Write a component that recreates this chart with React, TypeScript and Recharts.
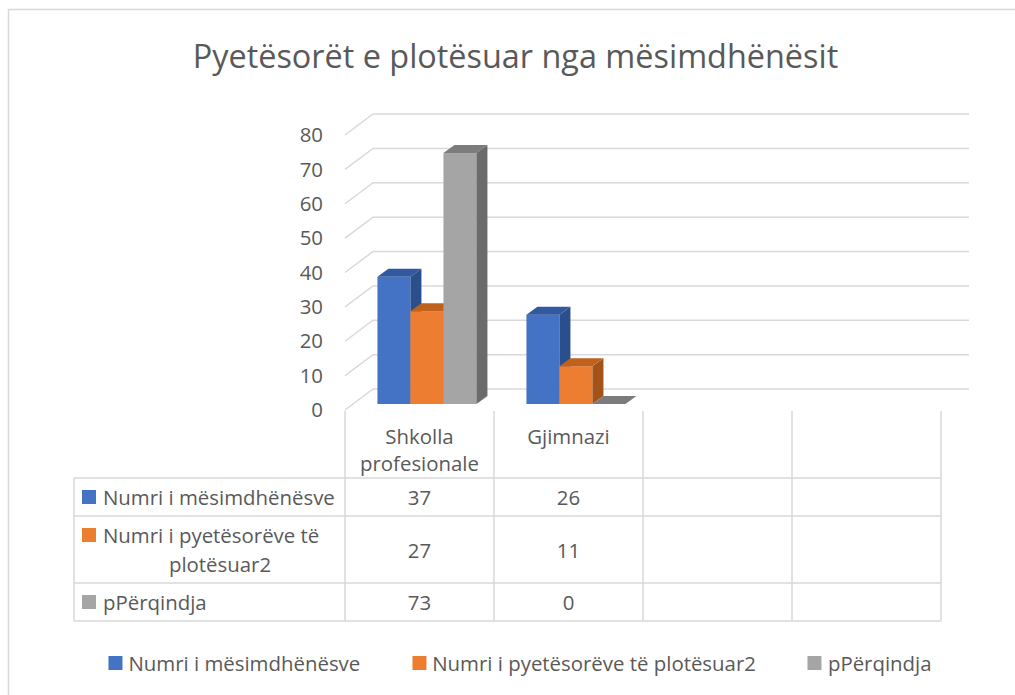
import React from "react";
import { BarChart, Bar, XAxis, YAxis, CartesianGrid } from "recharts";

// ---- data ----
const title = "Pyetësorët e plotësuar nga mësimdhënësit";
const categories = ["Shkolla profesionale", "Gjimnazi", "", ""];
const seriesNames = [
  "Numri i mësimdhënësve",
  "Numri i pyetësorëve të plotësuar2",
  "pPërqindja",
];
const numriMesimdhenesve: (number | null)[] = [37, 26, null, null];
const numriPyetesoreve: (number | null)[] = [27, 11, null, null];
const perqindja: (number | null)[] = [73, 0, null, null];
const yTicks = [0, 10, 20, 30, 40, 50, 60, 70, 80];

const seriesValues = [numriMesimdhenesve, numriPyetesoreve, perqindja];
const seriesKeys = ["s0", "s1", "s2"];
const seriesColors = [
  { front: "#4472C4", top: "#30599F", side: "#2B4E8C" },
  { front: "#ED7D31", top: "#C0621E", side: "#A3531A" },
  { front: "#A5A5A5", top: "#7C7C7C", side: "#6B6B6B" },
];

const data = categories.map((name, i) => {
  const row: Record<string, any> = { name };
  seriesKeys.forEach((k, s) => (row[k] = seriesValues[s][i]));
  return row;
});

// ---- layout ----
const W = 1015;
const H = 695;
const PL = 345;
const PR = 941;
const PT = 135;
const PB = 410;
const WALL_DX = 28;
const WALL_DY = -21;
const BAR_OX = 8;
const BAR_OY = -6;
const BAR_DX = 11;
const BAR_DY = -8;
const FONT = "'Open Sans', sans-serif";
const TXT = "#595959";
const LINE = "#d9d9d9";
const FS = 20.4;

const make3D = (key: string, c: { front: string; top: string; side: string }) =>
  (props: any) => {
    const { x, y, width, height, payload } = props;
    if (!payload || payload[key] == null) return <g />;
    const fx = x + BAR_OX;
    const fy = y + BAR_OY;
    const w = width;
    const h = Math.max(0, height);
    return (
      <g>
        <rect x={fx} y={fy} width={w} height={h} fill={c.front} />
        <polygon
          points={`${fx + w},${fy} ${fx + w + BAR_DX},${fy + BAR_DY} ${fx + w + BAR_DX},${fy + h + BAR_DY} ${fx + w},${fy + h}`}
          fill={c.side}
        />
        <polygon
          points={`${fx},${fy} ${fx + BAR_DX},${fy + BAR_DY} ${fx + w + BAR_DX},${fy + BAR_DY} ${fx + w},${fy}`}
          fill={c.top}
        />
      </g>
    );
  };

const gridLine = (p: any) => {
  const { x1, x2, y1 } = p;
  return (
    <polyline
      points={`${x1},${y1} ${x1 + WALL_DX},${y1 + WALL_DY} ${x2 + WALL_DX},${y1 + WALL_DY}`}
      fill="none"
      stroke={LINE}
      strokeWidth={1.5}
    />
  );
};

const rows = [
  { top: 478, bottom: 516 },
  { top: 516, bottom: 583 },
  { top: 583, bottom: 621 },
];
const HEADER_TOP = 411;
const TABLE_LEFT = 74;

export default function App() {
  const catW = (PR - PL) / categories.length;
  const colX = categories.map((_, i) => PL + i * catW);
  const tableBottom = rows[rows.length - 1].bottom;

  return (
    <div
      style={{
        position: "fixed",
        left: 0,
        top: 0,
        width: W,
        height: H,
        overflow: "hidden",
        background: "#fff",
        fontFamily: FONT,
        color: TXT,
      }}
    >
      <div style={{ position: "absolute", left: 0, top: 0 }}>
        <BarChart
          width={W}
          height={H}
          data={data}
          margin={{ top: PT, right: W - PR, bottom: H - PB, left: PL - 60 }}
          barCategoryGap="16.4%"
          barGap={0}
        >
          <CartesianGrid horizontal={gridLine} vertical={false} />
          <XAxis dataKey="name" hide />
          <YAxis
            width={60}
            domain={[0, 80]}
            ticks={yTicks}
            interval={0}
            axisLine={false}
            tickLine={false}
            tickSize={0}
            tickMargin={22}
            tick={{ fill: TXT, fontSize: FS, fontFamily: FONT }}
          />
          {seriesKeys.map((k, s) => (
            <Bar
              key={k}
              dataKey={k}
              name={seriesNames[s]}
              fill={seriesColors[s].front}
              isAnimationActive={false}
              shape={make3D(k, seriesColors[s])}
            />
          ))}
        </BarChart>
      </div>

      <svg
        width={W}
        height={H}
        style={{ position: "absolute", left: 0, top: 0, pointerEvents: "none" }}
      >
        {/* outer chart border */}
        <line x1={8.5} y1={9} x2={8.5} y2={H} stroke={LINE} strokeWidth={1.5} />
        <line x1={8} y1={9.5} x2={W} y2={9.5} stroke={LINE} strokeWidth={1.5} />
        {/* table horizontal lines */}
        {rows.map((r, i) => (
          <line key={"h" + i} x1={TABLE_LEFT} y1={r.top} x2={PR} y2={r.top} stroke={LINE} strokeWidth={1.5} />
        ))}
        <line x1={TABLE_LEFT} y1={tableBottom} x2={PR} y2={tableBottom} stroke={LINE} strokeWidth={1.5} />
        {/* table vertical lines */}
        <line x1={TABLE_LEFT} y1={rows[0].top} x2={TABLE_LEFT} y2={tableBottom} stroke={LINE} strokeWidth={1.5} />
        {[...colX, PR].map((x, i) => (
          <line key={"v" + i} x1={x} y1={HEADER_TOP} x2={x} y2={tableBottom} stroke={LINE} strokeWidth={1.5} />
        ))}
      </svg>

      {/* title */}
      <div
        style={{
          position: "absolute",
          left: 515.5,
          top: 35,
          transform: "translateX(-50%)",
          fontSize: 32.4,
          lineHeight: "40px",
          whiteSpace: "nowrap",
        }}
      >
        {title}
      </div>

      {/* category header cells */}
      {categories.map((c, i) => (
        <div
          key={"c" + i}
          style={{
            position: "absolute",
            left: colX[i],
            top: 423,
            width: catW,
            textAlign: "center",
            fontSize: FS,
            lineHeight: "27px",
            padding: "0 8px",
            boxSizing: "border-box",
          }}
        >
          {c}
        </div>
      ))}

      {/* series rows */}
      {seriesNames.map((n, s) => (
        <React.Fragment key={"r" + s}>
          <div
            style={{
              position: "absolute",
              left: TABLE_LEFT,
              top: rows[s].top,
              width: PL - TABLE_LEFT,
              height: rows[s].bottom - rows[s].top,
              display: "flex",
              alignItems: "center",
            }}
          >
            <div style={{ display: "flex", alignItems: "flex-start", paddingLeft: 8 }}>
              <div
                style={{
                  width: 14,
                  height: 14,
                  background: seriesColors[s].front,
                  marginTop: 7,
                  marginRight: 7,
                  flex: "none",
                }}
              />
              <div
                style={{
                  display: "inline-block",
                  maxWidth: 234,
                  fontSize: FS,
                  lineHeight: "29px",
                  textAlign: "left",
                  textAlignLast: "center" as any,
                }}
              >
                {n}
              </div>
            </div>
          </div>
          {categories.map((_, i) => (
            <div
              key={"v" + s + "_" + i}
              style={{
                position: "absolute",
                left: colX[i],
                top: rows[s].top,
                width: catW,
                height: rows[s].bottom - rows[s].top,
                display: "flex",
                alignItems: "center",
                justifyContent: "center",
                fontSize: FS,
              }}
            >
              {seriesValues[s][i] == null ? "" : String(seriesValues[s][i])}
            </div>
          ))}
        </React.Fragment>
      ))}

      {/* legend */}
      <div
        style={{
          position: "absolute",
          left: 520,
          top: 649,
          transform: "translateX(-50%)",
          display: "flex",
          alignItems: "center",
          gap: 52,
          whiteSpace: "nowrap",
          fontSize: FS,
          lineHeight: "28px",
        }}
      >
        {seriesNames.map((n, s) => (
          <div key={"l" + s} style={{ display: "flex", alignItems: "center" }}>
            <div style={{ width: 14, height: 14, background: seriesColors[s].front, marginRight: 6 }} />
            <span>{n}</span>
          </div>
        ))}
      </div>
    </div>
  );
}
